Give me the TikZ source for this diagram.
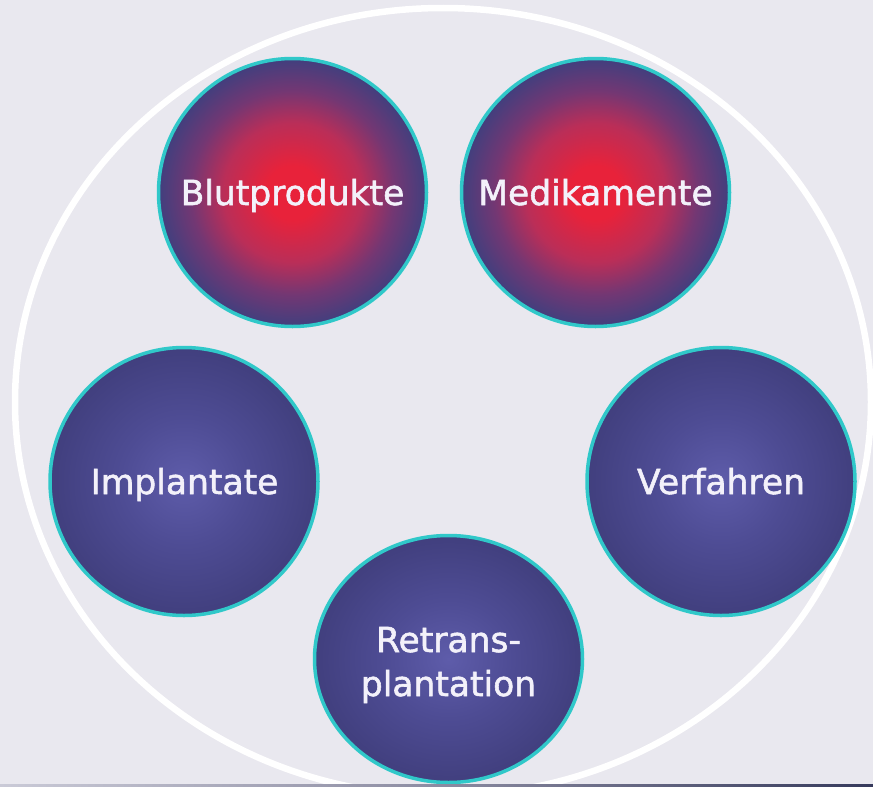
\documentclass[tikz,border=0pt]{standalone}
\usepackage{fontspec}
\newfontfamily\labelfont[FakeBold=1.6]{DejaVu Sans}
\usetikzlibrary{shapes.geometric}

\definecolor{bgc}{HTML}{E9E8EF}
\definecolor{rimcyan}{HTML}{30C8C9}
\definecolor{navyedge}{HTML}{413F7E}
\definecolor{glowred}{HTML}{E8223A}
\definecolor{glowmid}{HTML}{BA2E58}
\definecolor{glowouter}{HTML}{733773}
\definecolor{lilaccore}{HTML}{5E5CAA}
\definecolor{lilacmid}{HTML}{4E4C94}
\definecolor{labeltext}{HTML}{F3F1FA}
\definecolor{stripleft}{HTML}{CACAD7}
\definecolor{stripmid}{HTML}{8C8CA2}
\definecolor{stripright}{HTML}{363A5C}

% red core fading to navy at the rim
\pgfdeclareradialshading{redglow}{\pgfpoint{0bp}{0bp}}{%
  color(0bp)=(glowred); color(5bp)=(glowred); color(13bp)=(glowmid);
  color(19bp)=(glowouter); color(25bp)=(navyedge); color(50bp)=(navyedge)}
% soft lilac core fading to navy at the rim
\pgfdeclareradialshading{lilacglow}{\pgfpoint{0bp}{0bp}}{%
  color(0bp)=(lilaccore); color(12bp)=(lilacmid);
  color(25bp)=(navyedge); color(50bp)=(navyedge)}

\tikzset{
  disc/.style={circle, minimum size=268pt, inner sep=0pt,
    draw=rimcyan, line width=3.5pt},
  hotdisc/.style={disc, shading=redglow},
  calmdisc/.style={disc, shading=lilacglow},
  caption/.style={anchor=base, inner sep=0pt, text=labeltext,
    font=\labelfont\fontsize{34.5}{44}\selectfont}
}

\begin{document}
\begin{tikzpicture}[x=1pt, y=-1pt]
  \useasboundingbox (0,0) rectangle (873,787);
  \fill[bgc] (0,0) rectangle (873,787);

  % outer white ring
  \draw[white, line width=6.5pt] (443,402) ellipse [x radius=428, y radius=394];

  % the five discs
  \node[hotdisc] (blut) at (292.5,192.5) {};
  \node[hotdisc] (medi) at (595.5,192.5) {};
  \node[calmdisc] (impl) at (184,481.5) {};
  \node[calmdisc] (verf) at (721,481.5) {};
  \node[ellipse, minimum width=268pt, minimum height=247pt, inner sep=0pt,
        draw=rimcyan, line width=3.5pt, shading=lilacglow] (retr) at (448.5,659) {};

  % captions
  \node[caption] (tblut) at (292.5,205) {Blutprodukte};
  \node[caption] (tmedi) at (595.5,205) {Medikamente};
  \node[caption] (timpl) at (184.5,494) {Implantate};
  \node[caption] (tverf) at (721,494) {Verfahren};
  \node[caption] (tretr1) at (448.5,652) {Retrans-};
  \node[caption] (tretr2) at (448.5,696) {plantation};

  % thin shaded strip along the bottom edge
  \shade[left color=stripleft, right color=stripright, middle color=stripmid]
    (0,784) rectangle (873,787);
\end{tikzpicture}
\end{document}
